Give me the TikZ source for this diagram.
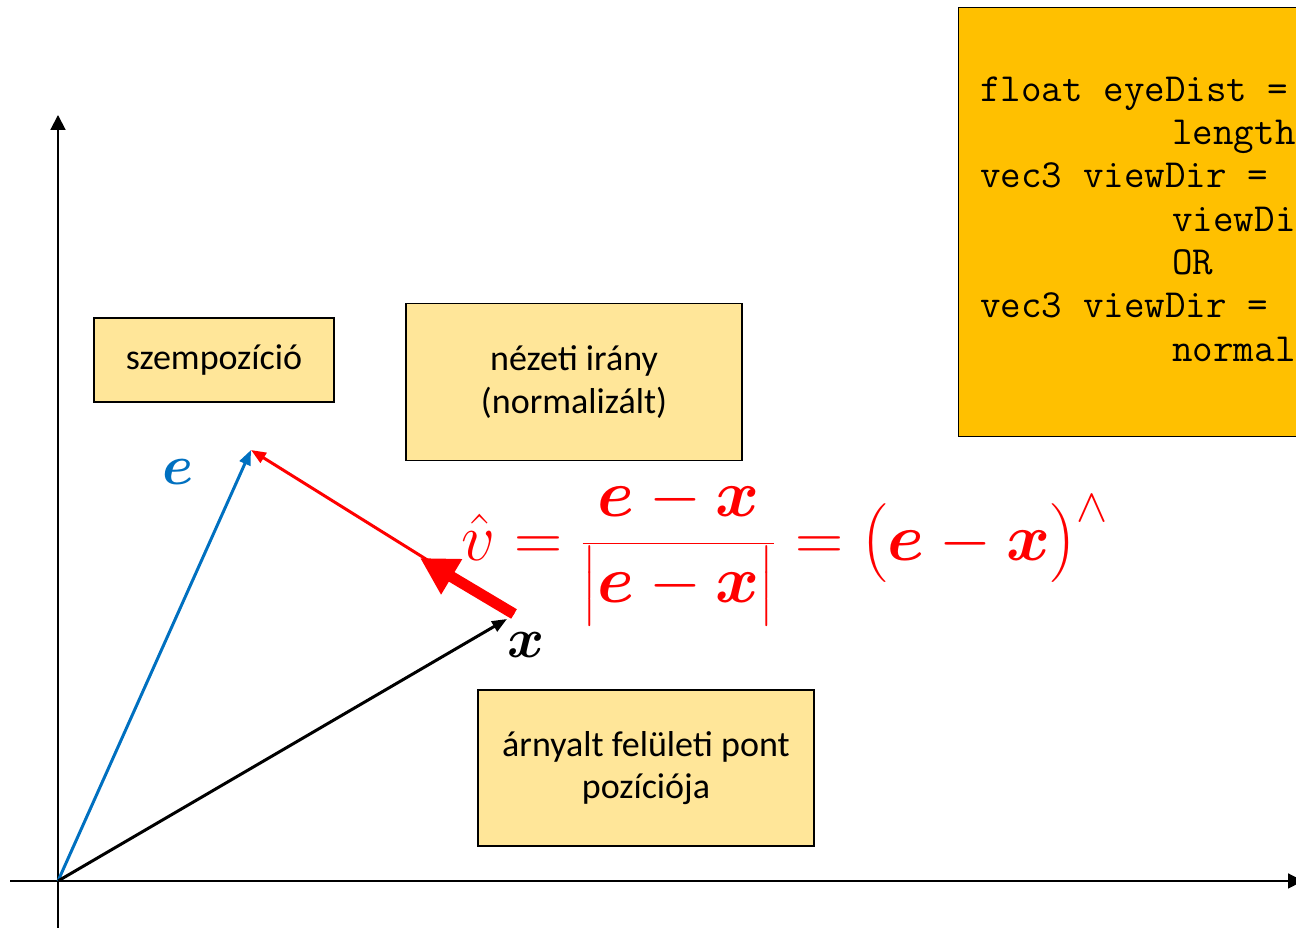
\RequirePackage{fix-cm}
\documentclass[tikz,border=0pt]{standalone}
\usepackage{fontspec}
\usepackage{amsmath}
\usepackage{bm}
\setmainfont{Carlito}
\usetikzlibrary{arrows.meta, positioning}
\definecolor{vecblue}{HTML}{0070C0}
\definecolor{noteyellow}{HTML}{FFE699}
\definecolor{codeorange}{HTML}{FFC000}

\begin{document}
\begin{tikzpicture}[
  x=0.02cm, y=0.02cm,
  note/.style={draw, fill=noteyellow, line width=0.8pt, align=center, inner sep=0pt,
    font=\fontsize{20.5}{24}\selectfont},
  vec/.style={-{Triangle[length=8.5pt, width=6.5pt]}, line width=1.7pt},
  axis/.style={-{Triangle[length=8.5pt, width=8.5pt]}, line width=1.1pt},
  codeline/.style={anchor=base west, inner sep=0pt, font=\ttfamily\fontsize{22.7}{26}\selectfont},
  veclabel/.style={font=\fontsize{32}{36}\selectfont}
]
\useasboundingbox (0,0) rectangle (1296,928);

% axes
\coordinate (O) at (58,47);
\coordinate (xstart) at (10,47);
\coordinate (xend) at (1303,47);
\coordinate (ystart) at (58,0);
\coordinate (yend) at (58,813);
\draw[axis] (xstart) -- (xend);
\draw[axis] (ystart) -- (yend);

% points
\coordinate (e) at (251,478);
\coordinate (x) at (507,309);
\coordinate (xr) at (514,314);
\coordinate (vtip) at (420,370);

\draw[vec, vecblue] (O) -- (e);
\draw[vec, black] (O) -- (x);
\draw[vec, red] (xr) -- (e);
\draw[red, line width=6.3pt, -{Triangle[length=21pt, width=22pt]}] (xr) -- (vtip);

\node[veclabel, text=vecblue] (elabel) at (178,456) {$\bm{e}$};
\node[veclabel] (xlabel) at (526,283) {$\bm{x}$};

% notes
\node[note, minimum width=4.8cm, minimum height=1.68cm] (eyebox) at (214,568) {szempozíció};
\node[note, minimum width=6.72cm, minimum height=3.14cm] (dirbox) at (574,546) {nézeti irány\\(normalizált)};
\node[note, minimum width=6.72cm, minimum height=3.12cm] (posbox) at (646,160) {árnyalt felületi pont\\pozíciója};

% formula
\node[text=red, font=\fontsize{38}{44}\selectfont] (vhat) at (785,376)
  {$\hat{v} = \frac{\displaystyle\bm{e}-\bm{x}\rule[-0.36em]{0pt}{0pt}}{\displaystyle\bigl|\bm{e}-\bm{x}\bigr|}
    = \bigl(\bm{e}-\bm{x}\bigr)^{\wedge}$};

% code
\node[draw, fill=codeorange, line width=0.8pt, anchor=north west, inner sep=0pt,
  minimum width=8.9cm, minimum height=8.58cm] (code) at (958,921) {};
\foreach \cx/\cy/\ctext in {980/826/float eyeDist =, 1172/783/length,
    980/740/vec3 viewDir =, 1172/696/viewDi, 1172/653/OR,
    980/610/vec3 viewDir =, 1172/566/normal}
  \node[codeline] at (\cx,\cy) {\ctext};
\end{tikzpicture}
\end{document}
